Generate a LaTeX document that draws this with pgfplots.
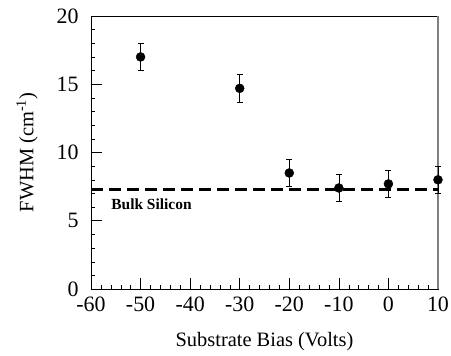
\documentclass[border=0pt]{standalone}
\usepackage{pgfplots}
\pgfplotsset{compat=1.18}
\usepackage{fontspec}
\setmainfont{Liberation Serif}
\begin{document}
\begin{tikzpicture}
\useasboundingbox (-91bp,-67bp) rectangle (360bp,289bp);
\begin{axis}[
  at={(0,0)}, anchor=south west,
  scale only axis, width=347bp, height=273bp,
  xmin=-60, xmax=10, ymin=0, ymax=20,
  xtick={-60,-50,...,10}, ytick={0,5,...,20},
  minor x tick num=4, minor y tick num=4,
  xtick pos=bottom, ytick pos=left,
  major tick length=11bp, minor tick length=4.5bp,
  every tick/.style={black},
  tick align=inside,
  major tick style={/pgfplots/tick align=center, black, line width=0.7pt},
  /pgf/number format/assume math mode=true,
  tick label style={font=\fontsize{22}{24}\selectfont},
  label style={font=\fontsize{20.5}{22}\selectfont},
  xticklabel style={yshift=-4bp},
  yticklabel style={xshift=-9bp},
  xlabel={Substrate Bias (Volts)},
  ylabel={FWHM (cm\textsuperscript{-1})},
  xlabel style={yshift=-14bp},
  ylabel style={yshift=12bp},
  axis line style={line width=0.8pt},
  clip=false,
]
\draw[gray, line width=1.2pt] (rel axis cs:1,0) -- (rel axis cs:1,1);
\addplot[black, line width=2.6pt, dash pattern=on 12bp off 6bp] coordinates {(-60,7.3) (10,7.3)};
\addplot[black, only marks, mark=*, mark size=4.5bp,
  error bars/.cd, y dir=both, y explicit,
  error bar style={line width=0.7pt},
  error mark options={rotate=90, mark size=3bp, line width=0.7pt}]
  coordinates {
    (-50,17.0) +- (0,1.0)
    (-30,14.7) +- (0,1.0)
    (-20,8.5) +- (0,1.0)
    (-10,7.4) +- (0,1.0)
    (0,7.7) +- (0,1.0)
    (10,8.0) +- (0,1.0)
  };
\node[anchor=west, font=\bfseries\fontsize{15.5}{17}\selectfont] at (axis cs:-56.6,6.2) {Bulk Silicon};
\end{axis}
\end{tikzpicture}
\end{document}
